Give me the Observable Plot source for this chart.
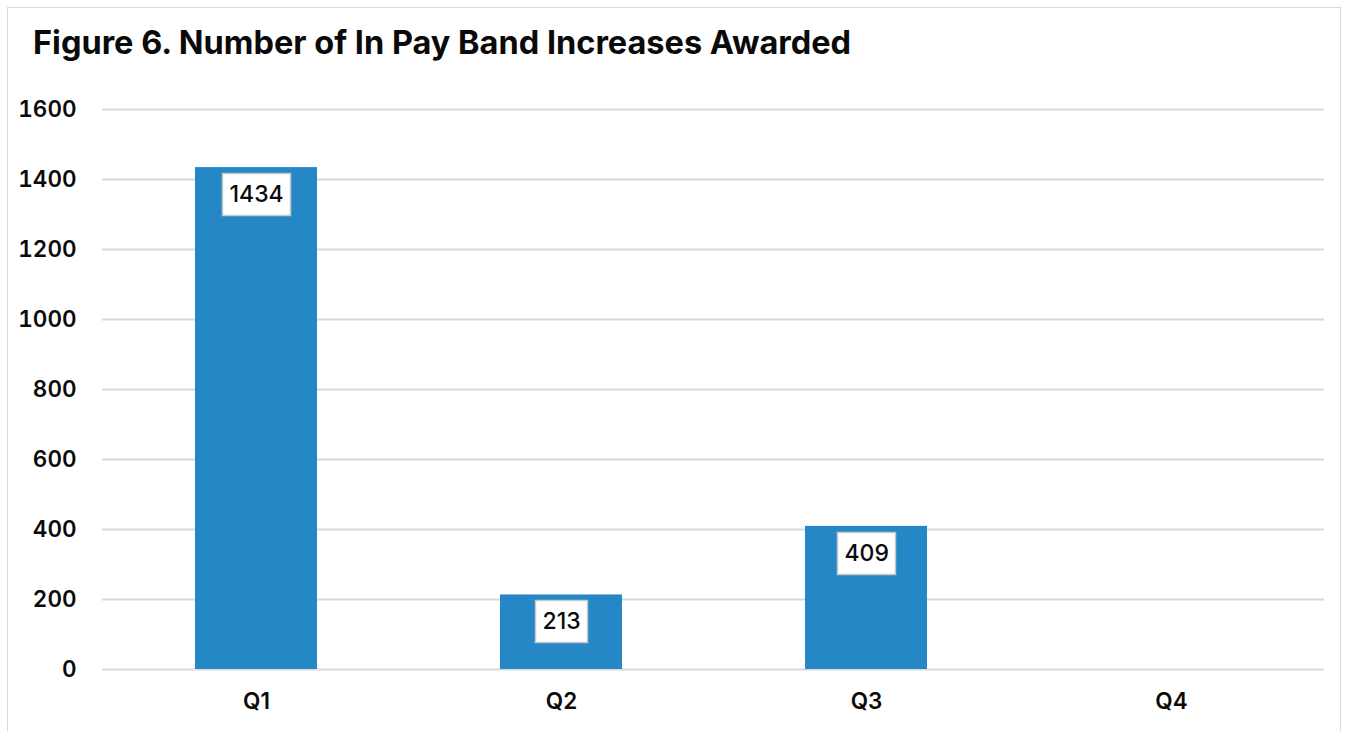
<!DOCTYPE html>
<html><head><meta charset="utf-8">
<script src="https://cdn.jsdelivr.net/npm/d3@7"></script>
<script src="https://cdn.jsdelivr.net/npm/@observablehq/plot@0.6"></script>
<style>
body{margin:0;background:#fff;font-family:Inter,sans-serif;}
#frame{position:absolute;left:7px;top:7px;width:1334px;height:760px;border:1px solid #d9d9d9;box-sizing:border-box;overflow:hidden;background:#fff;}
#title{position:absolute;left:25px;top:19px;font-size:32.5px;line-height:32px;font-weight:700;color:#0a0a0a;margin:0;white-space:nowrap;}
#chart{position:absolute;left:0;top:72px;}
</style></head>
<body>
<div id="frame">
  <div id="title">Figure 6. Number of In Pay Band Increases Awarded</div>
  <div id="chart"></div>
</div>
<script>
const quarters = ["Q1", "Q2", "Q3", "Q4"];
const values = [1434, 213, 409, null];
const yTicks = [0, 200, 400, 600, 800, 1000, 1200, 1400, 1600];

const data = quarters.map((q, i) => ({quarter: q, value: values[i]}));
const present = data.filter(d => d.value != null);

const chart = Plot.plot({
  width: 1332,
  height: 650,
  marginLeft: 94,
  marginRight: 16,
  marginTop: 29,
  marginBottom: 61,
  style: {fontFamily: "Inter, sans-serif", fontSize: "22.5px", fontWeight: 600, color: "#0a0a0a", background: "transparent"},
  x: {domain: quarters, paddingInner: 0.6, paddingOuter: 0.3, label: null, tickSize: 0, tickPadding: 24},
  y: {domain: [0, 1600], ticks: yTicks, tickFormat: d => String(d), label: null, tickSize: 0, tickPadding: 26},
  marks: [
    Plot.ruleY(yTicks, {stroke: "#d9d9d9", strokeWidth: 2}),
    Plot.barY(present, {x: "quarter", y: "value", fill: "#2587c5"}),
    Plot.tip(present, {
      x: "quarter", y: "value",
      title: d => String(d.value),
      anchor: "top", pointerSize: 0, dy: 6,
      fill: "white", stroke: "#c8c8c8", strokeWidth: 1.5,
      textPadding: 7, pathFilter: "none", fontSize: 23, fontWeight: 500
    })
  ]
});
document.getElementById("chart").appendChild(chart);
</script>
</body></html>
